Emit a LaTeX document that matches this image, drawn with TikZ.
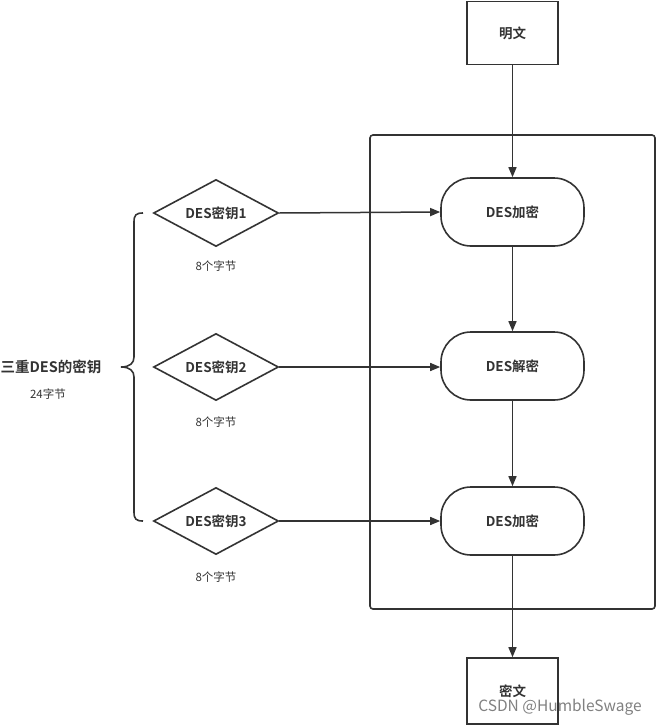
\documentclass[tikz,border=0pt]{standalone}
\usepackage{fontspec}
\setmainfont{Noto Sans CJK SC}[BoldFont={Noto Sans CJK SC Bold}]
\usetikzlibrary{shapes.geometric,arrows.meta}
\definecolor{ink}{HTML}{333333}
\tikzset{
  rectbox/.style={draw=ink, line width=1.6pt, minimum width=91pt, minimum height=63pt, font=\fontsize{13.5}{15}\selectfont\bfseries, text=ink},
  stadium/.style={draw=ink, line width=1.6pt, rounded corners=30pt, minimum width=143pt, minimum height=68pt, font=\fontsize{13.5}{15}\selectfont\bfseries, text=ink},
  keydia/.style={draw=ink, line width=1.6pt, diamond, aspect=1.9, minimum width=125pt, minimum height=67pt, inner sep=0pt, font=\fontsize{13.5}{15}\selectfont\bfseries, text=ink},
  small/.style={font=\fontsize{11.5}{13}\selectfont, text=ink},
  conn/.style={draw=ink, line width=1.5pt, -{Triangle[length=10pt,width=8pt]}},
}
\begin{document}
\begin{tikzpicture}[x=1pt,y=-1pt]
\useasboundingbox (0,0) rectangle (659,726);
% frame
\node[draw=ink, line width=1.6pt, rounded corners=3pt, minimum width=285pt, minimum height=474pt, inner sep=0pt] (frame) at (512.5,372) {};
\node[rectbox] (plain) at (512.5,33) {明文};
\node[rectbox, minimum height=66pt] (cipher) at (512.5,691) {密文};
\node[stadium] (enc1) at (512.5,212) {DES加密};
\node[stadium] (dec) at (512.5,366) {DES解密};
\node[stadium] (enc3) at (512.5,521) {DES加密};
\node[keydia] (k1) at (216,213) {DES密钥1};
\node[keydia] (k2) at (216,367) {DES密钥2};
\node[keydia] (k3) at (216,521) {DES密钥3};
\node[small] (b1) at (216,266) {8个字节};
\node[small] (b2) at (216,422) {8个字节};
\node[small] (b3) at (216,577) {8个字节};
\node[font=\fontsize{14.5}{16}\selectfont\bfseries, text=ink] (tri) at (51,367) {三重DES的密钥};
\node[small] (tot) at (48,394) {24字节};
\draw[conn] (plain) -- (enc1);
\draw[conn] (enc1) -- (dec);
\draw[conn] (dec) -- (enc3);
\draw[conn] (enc3) -- (cipher);
\draw[conn] (k1.east) -- (enc1.west);
\draw[conn] (k2.east) -- (enc3.west |- k2.east);
\draw[conn] (k3.east) -- (enc3.west);
% brace
\coordinate (bt) at (143,213);
\coordinate (bb) at (143,521);
\coordinate (tip) at (121,367);
\draw[ink, line width=1.6pt] (bt) .. controls (136,213) and (134,215) .. (134,222) -- (134,357)
  .. controls (134,363) and (130,367) .. (tip) .. controls (130,367) and (134,371) .. (134,377)
  -- (134,512) .. controls (134,519) and (136,521) .. (bb);
% watermark
\node[font=\fontsize{15.5}{17}\selectfont, text=black!50] (wm) at (560,707) {CSDN @HumbleSwage};
\end{tikzpicture}
\end{document}
